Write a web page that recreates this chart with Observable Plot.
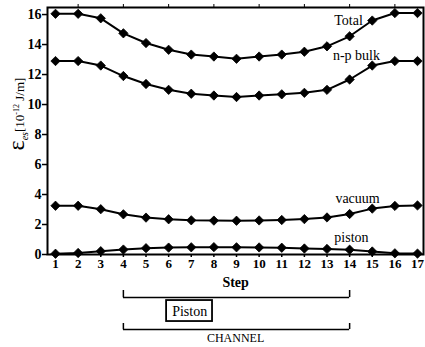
<!DOCTYPE html>
<html>
<head>
<meta charset="utf-8">
<script src="https://cdn.jsdelivr.net/npm/d3@7"></script>
<script src="https://cdn.jsdelivr.net/npm/@observablehq/plot@0.6"></script>
<style>
  html, body { margin: 0; padding: 0; background: #fff; }
  svg { display: block; }
</style>
</head>
<body>
<script>
const steps  = [1,2,3,4,5,6,7,8,9,10,11,12,13,14,15,16,17];
const total  = [16.05,16.05,15.75,14.75,14.1,13.65,13.33,13.2,13.05,13.2,13.33,13.52,13.88,14.55,15.6,16.1,16.1];
const bulk   = [12.9,12.9,12.6,11.9,11.37,10.98,10.72,10.6,10.5,10.6,10.68,10.78,10.98,11.67,12.6,12.9,12.9];
const vacuum = [3.25,3.25,3.02,2.68,2.46,2.35,2.28,2.26,2.25,2.27,2.3,2.36,2.47,2.7,3.06,3.24,3.27];
const piston = [0.05,0.1,0.22,0.33,0.42,0.46,0.48,0.49,0.48,0.47,0.45,0.4,0.37,0.32,0.2,0.08,0.06];
const seriesNames = ["Total","n-p bulk","vacuum","piston"];
const seriesValues = [total, bulk, vacuum, piston];
const yTicks = [0,2,4,6,8,10,12,14,16];
const topTicks = [2,4,6,8,10,12,14,16];

// annotation anchors (data units)
const seriesLabels = [
  {name:"Total", x:13.95, y:15.6},
  {name:"n-p bulk", x:14.3, y:13.25},
  {name:"vacuum", x:14.35, y:3.73},
  {name:"piston", x:14.08, y:1.13}
];
const channelStart = 4, channelEnd = 14;

const data = [];
seriesNames.forEach((s, i) => steps.forEach((st, j) => data.push({series:s, step:st, value:seriesValues[i][j]})));

const font = "'Liberation Serif', 'Times New Roman', serif";

const plot = Plot.plot({
  width: 425,
  height: 347,
  marginLeft: 47,
  marginRight: 2,
  marginTop: 7,
  marginBottom: 93,
  style: {fontFamily: font, background: "#fff", color: "#000"},
  x: {domain: [0.646, 17.265]},
  y: {domain: [0, 16.47]},
  marks: [
    Plot.axisY({ticks: yTicks, tickSize: 5, tickPadding: 1, fontSize: 14, fontWeight: "bold", label: null, strokeWidth: 1.5}),
    Plot.axisX({ticks: steps, tickSize: 3, tickPadding: 1, fontSize: 13, fontWeight: "bold", label: null, tickFormat: d => String(d), strokeWidth: 1.5}),
    Plot.axisX({anchor: "top", ticks: topTicks, tickSize: 4, tickFormat: () => "", label: null}),
    Plot.frame({stroke: "#000", strokeWidth: 2}),
    Plot.line(data, {x: "step", y: "value", z: "series", stroke: "#000", strokeWidth: 2}),
    Plot.dot(data, {x: "step", y: "value", symbol: "diamond2", r: 4.2, fill: "#000", stroke: "#000", strokeWidth: 0.8}),
    Plot.text(seriesLabels, {x: "x", y: "y", text: "name", fontSize: 14, fill: "#000"}),
    Plot.text(["Step"], {x: 8.96, y: -1.9, text: d => d, fontSize: 14, fontWeight: "bold"}),
    Plot.ruleY([-2.87], {x1: channelStart, x2: channelEnd, stroke: "#000", strokeWidth: 1.5}),
    Plot.ruleX([channelStart, channelEnd], {y1: -2.4, y2: -2.87, stroke: "#000", strokeWidth: 1.5}),
    Plot.rect([{x1: 5.91, x2: 7.94, y1: -3.07, y2: -4.47}], {x1: "x1", x2: "x2", y1: "y1", y2: "y2", fill: "none", stroke: "#000", strokeWidth: 1.8}),
    Plot.text(["Piston"], {x: 6.93, y: -3.78, text: d => d, fontSize: 14}),
    Plot.ruleY([-5.0], {x1: channelStart, x2: channelEnd, stroke: "#000", strokeWidth: 1.5}),
    Plot.ruleX([channelStart, channelEnd], {y1: -4.6, y2: -5.0, stroke: "#000", strokeWidth: 1.5}),
    Plot.text(["CHANNEL"], {x: 8.96, y: -5.55, text: d => d, fontSize: 12})
  ]
});

document.body.append(plot);

// rotated y-axis label with subscript/superscript
const svg = d3.select(plot);
const lab = svg.append("text")
  .attr("transform", "translate(24,114) rotate(-90)")
  .attr("text-anchor", "middle")
  .attr("font-family", font)
  .attr("fill", "#000");
lab.append("tspan").attr("font-size", 24).text("ε");
lab.append("tspan").attr("font-size", 10).attr("font-style", "italic").attr("dy", 4).text("es");
lab.append("tspan").attr("font-size", 13).attr("dy", -4).text("[10");
lab.append("tspan").attr("font-size", 8).attr("dy", -5).text("-12");
lab.append("tspan").attr("font-size", 13).attr("dy", 5).text(" J/m]");
</script>
</body>
</html>
